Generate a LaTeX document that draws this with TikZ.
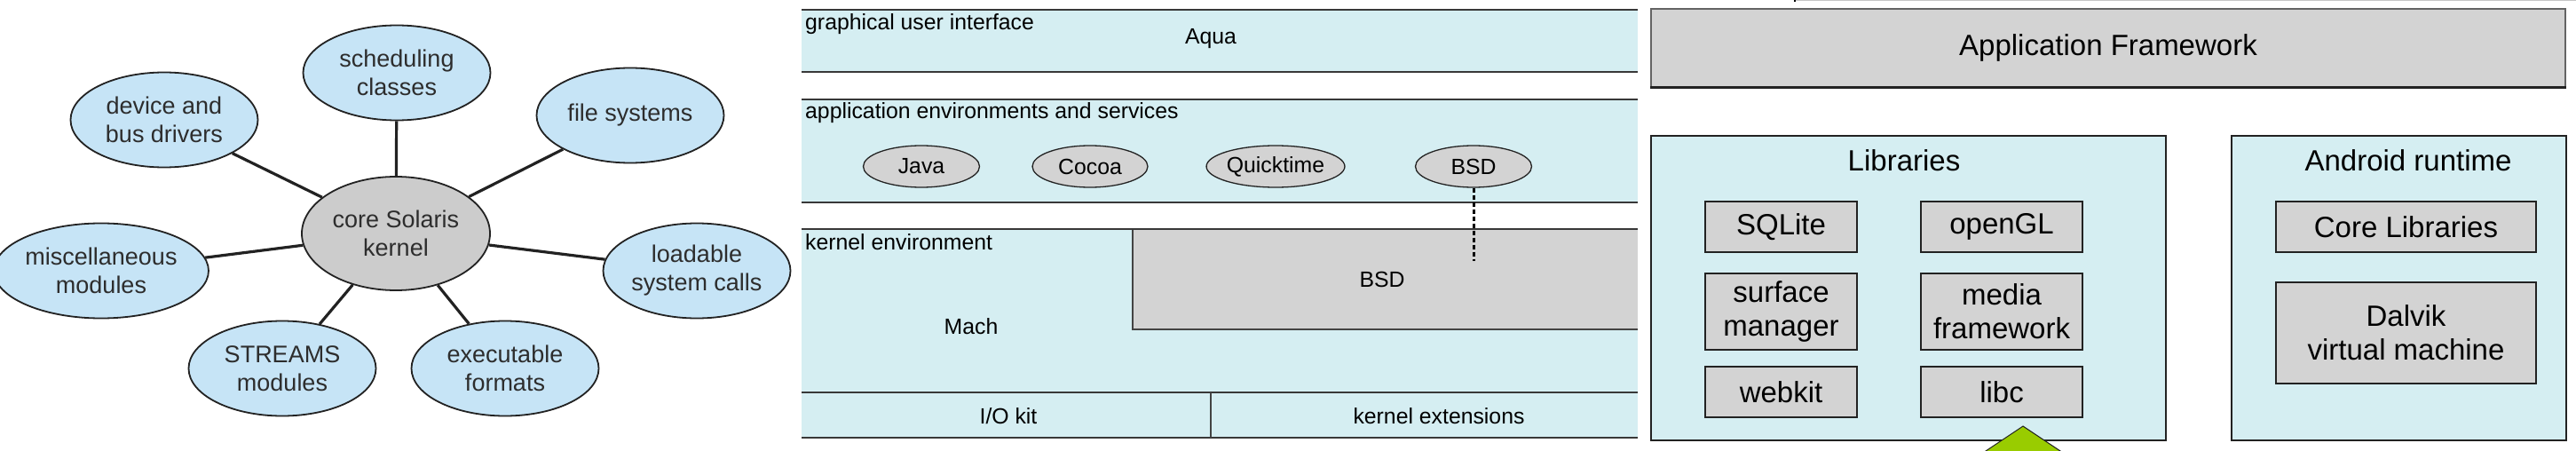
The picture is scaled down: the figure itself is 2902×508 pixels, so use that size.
\documentclass[tikz,border=0pt]{standalone}
\usepackage{fontspec}
\setmainfont{Liberation Sans}
\usetikzlibrary{shapes.geometric}
\definecolor{cyanfill}{RGB}{213,238,242}
\definecolor{boxgrey}{RGB}{211,211,211}
\definecolor{solblue}{RGB}{198,228,246}
\definecolor{solgrey}{RGB}{204,204,204}
\definecolor{tri}{RGB}{153,204,0}
\definecolor{ink}{RGB}{34,34,34}
\definecolor{soltext}{RGB}{45,45,45}
\begin{document}
\begin{tikzpicture}[x=1pt,y=-1pt,
  solnode/.style={ellipse, draw=ink, line width=1.8pt, fill=solblue,
    minimum width=211pt, minimum height=107pt, inner sep=0pt, align=center,
    font=\fontsize{27}{32}\selectfont, text=soltext},
  solcore/.style={solnode, fill=solgrey, minimum width=212pt, minimum height=128pt},
  spoke/.style={line width=3.2pt, draw=ink},
  macfont/.style={font=\fontsize{24.8}{29}\selectfont, inner sep=0pt},
  macell/.style={ellipse, draw=ink, line width=1.3pt, fill=boxgrey,
    minimum height=47pt, macfont},
  bandline/.style={line width=2pt, draw=ink!90},
  thinline/.style={line width=1.5pt, draw=ink!85},
  dashline/.style={line width=3pt, draw=black, dash pattern=on 5pt off 3pt},
  anfont/.style={font=\fontsize{33}{38}\selectfont},
  anouter/.style={rectangle, draw=ink, line width=2pt, fill=cyanfill, inner sep=0pt},
  anbox/.style={rectangle, draw=ink, line width=2pt, fill=boxgrey, inner sep=0pt,
    align=center, anfont},
]
\useasboundingbox (0,0) rectangle (2902,508);
\fill[white] (0,0) rectangle (2902,508);

% ---------------- Solaris ----------------
\node[solcore] (core) at (446,263) {core Solaris\\kernel};
\node[solnode] (sched) at (447,82) {scheduling\\classes};
\node[solnode] (dev) at (185,135) {device and\\bus drivers};
\node[solnode] (fs) at (710,130) {file systems};
\node[solnode] (misc) at (114,305) {miscellaneous\\modules};
\node[solnode] (load) at (785,305) {loadable\\system calls};
\node[solnode] (streams) at (318,415) {STREAMS\\modules};
\node[solnode] (exec) at (569,415) {executable\\formats};
\foreach \n in {sched,dev,fs,misc,load,streams,exec}
  \draw[spoke] (core) -- (\n);

% ---------------- Mac OS X ----------------
\fill[cyanfill] (903,11) rectangle (1845,81);
\fill[cyanfill] (903,112) rectangle (1845,228);
\fill[cyanfill] (903,258) rectangle (1845,493);
\fill[boxgrey] (1276,258) rectangle (1845,371);
\draw[thinline] (1276,258) -- (1276,371) -- (1845,371);
\foreach \yy in {11,81,112,228,258,442,493}
  \draw[bandline] (903,\yy) -- (1845,\yy);
\draw[thinline] (1364,442) -- (1364,493);

\node[macfont, anchor=base west] (gui) at (907,34) {graphical user interface};
\node[macfont, anchor=base] (aqua) at (1364,50) {Aqua};
\node[macfont, anchor=base west] (appenv) at (907,134) {application environments and services};
\node[macell, minimum width=131pt] (java) at (1038,187.5) {Java};
\node[macell, minimum width=130pt] (cocoa) at (1228,187.5) {Cocoa};
\node[macell, minimum width=148pt] (qt) at (1437,187.5) {Quicktime};
\node[macell, minimum width=131pt] (bsdE) at (1660,187.5) {BSD};
\coordinate (dashend) at (1660,294);
\draw[dashline] (bsdE.south) -- (dashend);
\node[macfont, anchor=base west] (kenv) at (907,281) {kernel environment};
\node[macfont, anchor=base] (mach) at (1094,376) {Mach};
\node[macfont, anchor=base] (bsdK) at (1557,323) {BSD};
\node[macfont, anchor=base] (iokit) at (1136,477) {I/O kit};
\node[macfont, anchor=base] (kext) at (1621,477) {kernel extensions};

% ---------------- Android ----------------
\draw[line width=2pt, draw=gray!45] (2022,0.5) -- (2902,0.5);
\draw[line width=2pt, draw=black] (2022,0) -- (2022,2.5);
\node[anbox, draw=ink!70, line width=1.5pt, minimum width=1030pt, minimum height=88pt] (af) at (2375,54) {Application Framework};
\draw[line width=3pt, draw=ink] (af.south west) -- (af.south east);

\node[anouter, minimum width=580pt, minimum height=343pt] (libs) at (2150,324.5) {};
\node[anfont, anchor=base, inner sep=0pt] (libsT) at (2145,193) {Libraries};
\node[anouter, minimum width=377pt, minimum height=343pt] (art) at (2702.5,324.5) {};
\node[anfont, anchor=base, inner sep=0pt] (artT) at (2713,193) {Android runtime};

\node[anbox, minimum width=171pt, minimum height=57pt] (sqlite) at (2006.5,255.5) {SQLite};
\node[anbox, minimum width=182pt, minimum height=57pt] (opengl) at (2255,255.5) {openGL};
\node[anbox, minimum width=171pt, minimum height=86pt] (surf) at (2006.5,351) {surface\\manager};
\node[anbox, minimum width=182pt, minimum height=86pt] (media) at (2255,351) {media\\framework};
\node[anbox, minimum width=171pt, minimum height=57pt] (webkit) at (2006.5,441.5) {webkit};
\node[anbox, minimum width=182pt, minimum height=57pt] (libc) at (2255,441.5) {libc};
\node[anbox, minimum width=293pt, minimum height=57pt] (corelib) at (2710.5,255.5) {Core Libraries};
\node[anbox, minimum width=293pt, minimum height=114pt] (dalvik) at (2710.5,375) {Dalvik\\virtual machine};

\filldraw[fill=tri, draw=ink, line width=1pt] (2279,480) -- (2234,510) -- (2324,510) -- cycle;
\end{tikzpicture}
\end{document}
